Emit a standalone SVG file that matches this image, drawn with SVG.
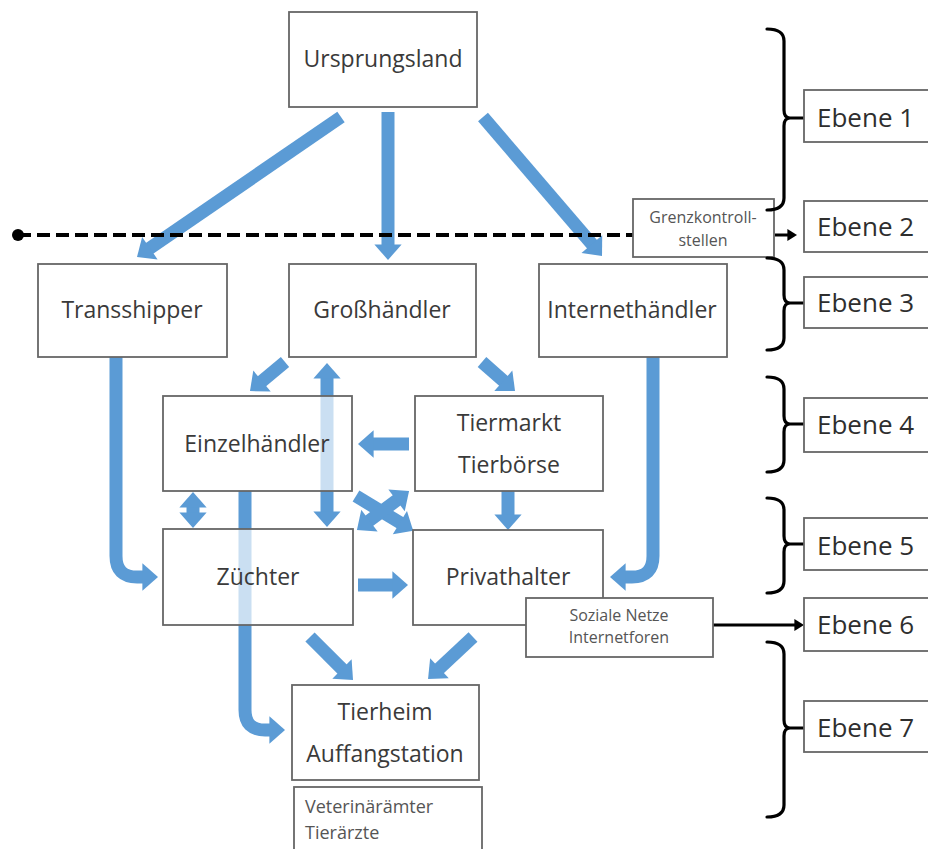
<svg xmlns="http://www.w3.org/2000/svg" width="928" height="849" viewBox="0 0 928 849">
<style>
.box{fill:#fff;fill-opacity:0.68;stroke:#666;stroke-width:1.8}
.solid{fill:#fff;stroke:#666;stroke-width:1.8}
.t{font-family:"Open Sans","Liberation Sans",sans-serif;font-size:23px;fill:#3a3a3a;text-anchor:middle}
.s{font-family:"Open Sans","Liberation Sans",sans-serif;font-size:16px;fill:#555;text-anchor:middle}
.v{font-family:"Open Sans","Liberation Sans",sans-serif;font-size:18px;fill:#555}
.e{font-family:"Open Sans","Liberation Sans",sans-serif;font-size:26px;fill:#2e2e2e}
.ba{fill:none;stroke:#5b9bd5;stroke-width:13;marker-end:url(#bh)}
.bd{marker-start:url(#bh)}
.br{fill:none;stroke:#000;stroke-width:3.2;stroke-linejoin:round;stroke-linecap:round}
.ka{fill:none;stroke:#000;stroke-width:3;marker-end:url(#kh)}
</style>
<defs>
<marker id="bh" markerWidth="2" markerHeight="3" refX="0" refY="0" orient="auto-start-reverse" overflow="visible">
<path d="M-0.1,-1.05 L1.1,0 L-0.1,1.05 z" fill="#5b9bd5"/>
</marker>
<marker id="kh" markerWidth="4" markerHeight="4" refX="0" refY="0" orient="auto" overflow="visible">
<path d="M-0.2,-2 L3,0 L-0.2,2 z" fill="#000"/>
</marker>
</defs>
<rect width="928" height="849" fill="#fff"/>
<g id="connectors">
<line class="ba" x1="341" y1="117" x2="148.8" y2="248.9"/>
<line class="ba" x1="388" y1="112" x2="388" y2="245.7"/>
<line class="ba" x1="483" y1="117" x2="592.7" y2="245.1"/>
<line class="ba" x1="285" y1="362" x2="261" y2="381.9"/>
<line class="ba bd" x1="327" y1="377.3" x2="327" y2="512.7"/>
<line class="ba" x1="482" y1="362" x2="504.3" y2="381.6"/>
<line class="ba" x1="409" y1="444" x2="372.3" y2="444"/>
<line class="ba" x1="508" y1="491" x2="508" y2="515.7"/>
<line class="ba" x1="356" y1="496" x2="401" y2="523.3"/>
<line class="ba bd" x1="368.4" y1="521.4" x2="397.6" y2="499.6"/>
<line class="ba bd" x1="193" y1="506.3" x2="193" y2="513.7"/>
<path class="ba" d="M116,357 V556 Q116,577 137,577 H143.7"/>
<path class="ba" d="M653,357 V556 Q653,577 632,577 H624.3"/>
<line class="ba" x1="358" y1="585" x2="393.7" y2="585"/>
<path class="ba" d="M245,491 V710 Q245,730 265,730 H270.7"/>
<line class="ba" x1="310" y1="637" x2="342.9" y2="669.9"/>
<line class="ba" x1="473" y1="637" x2="438.5" y2="669.2"/>
<line x1="18" y1="235" x2="633" y2="235" stroke="#000" stroke-width="4" stroke-dasharray="13 6"/>
<circle cx="18" cy="235" r="6" fill="#000"/>
<line class="ka" x1="775" y1="235" x2="788" y2="235"/>
<line class="ka" x1="713" y1="625" x2="795" y2="625"/>
</g>
<g id="n-ursprungsland"><rect class="box" x="289" y="12" width="188" height="95"/><text class="t" x="383" y="67">Ursprungsland</text></g>
<g id="n-transshipper"><rect class="box" x="38" y="264" width="189" height="93"/><text class="t" x="132" y="318">Transshipper</text></g>
<g id="n-grosshaendler"><rect class="box" x="289" y="264" width="187" height="93"/><text class="t" x="382" y="318">Großhändler</text></g>
<g id="n-internethaendler"><rect class="box" x="539" y="264" width="188" height="93"/><text class="t" x="632" y="318">Internethändler</text></g>
<g id="n-einzelhaendler"><rect class="box" x="163" y="396" width="189" height="95"/><text class="t" x="257" y="452">Einzelhändler</text></g>
<g id="n-tiermarkt"><rect class="box" x="415" y="396" width="188" height="95"/><text class="t" x="509" y="431">Tiermarkt</text><text class="t" x="509" y="473">Tierbörse</text></g>
<g id="n-zuechter"><rect class="box" x="163" y="529" width="190" height="96"/><text class="t" x="258" y="585">Züchter</text></g>
<g id="n-privathalter"><rect class="box" x="413" y="530" width="190" height="95"/><text class="t" x="508" y="585">Privathalter</text></g>
<g id="n-sozialenetze"><rect class="solid" x="526" y="598" width="187" height="59"/><text class="s" x="619" y="621">Soziale Netze</text><text class="s" x="619" y="643">Internetforen</text></g>
<g id="n-tierheim"><rect class="box" x="292" y="685" width="187" height="95"/><text class="t" x="385" y="720">Tierheim</text><text class="t" x="385" y="762">Auffangstation</text></g>
<g id="n-veterinaer"><rect class="solid" x="294" y="787" width="188" height="75"/><text class="v" x="305" y="813">Veterinärämter</text><text class="v" x="305" y="839">Tierärzte</text></g>
<g id="n-grenzkontrolle"><rect class="solid" x="633" y="199" width="141" height="58"/><text class="s" x="703" y="223">Grenzkontroll-</text><text class="s" x="703" y="246">stellen</text></g>
<g id="brackets">
<path class="br" d="M767,29 Q784,29 784,41 V110 Q784,118 790,118 Q784,118 784,126 V198 Q784,210 767,210 M790,118 H804"/>
<path class="br" d="M767,258 Q784,258 784,270 V295 Q784,303 790,303 Q784,303 784,311 V338 Q784,350 767,350 M790,303 H804"/>
<path class="br" d="M767,377 Q784,377 784,389 V416 Q784,424 790,424 Q784,424 784,432 V460 Q784,472 767,472 M790,424 H804"/>
<path class="br" d="M767,498 Q784,498 784,510 V536 Q784,544 790,544 Q784,544 784,552 V581 Q784,593 767,593 M790,544 H804"/>
<path class="br" d="M767,642 Q784,642 784,654 V720 Q784,728 790,728 Q784,728 784,736 V805 Q784,817 767,817 M790,728 H804"/>
</g>
<g id="n-ebene1"><rect class="solid" x="804" y="90" width="140" height="52"/><text class="e" x="817" y="127">Ebene 1</text></g>
<g id="n-ebene2"><rect class="solid" x="804" y="201" width="140" height="51"/><text class="e" x="817" y="236">Ebene 2</text></g>
<g id="n-ebene3"><rect class="solid" x="804" y="277" width="140" height="51"/><text class="e" x="817" y="312">Ebene 3</text></g>
<g id="n-ebene4"><rect class="solid" x="804" y="398" width="140" height="54"/><text class="e" x="817" y="434">Ebene 4</text></g>
<g id="n-ebene5"><rect class="solid" x="804" y="518" width="140" height="52"/><text class="e" x="817" y="555">Ebene 5</text></g>
<g id="n-ebene6"><rect class="solid" x="804" y="598" width="140" height="53"/><text class="e" x="817" y="634">Ebene 6</text></g>
<g id="n-ebene7"><rect class="solid" x="804" y="701" width="140" height="51"/><text class="e" x="817" y="737">Ebene 7</text></g>
</svg>
